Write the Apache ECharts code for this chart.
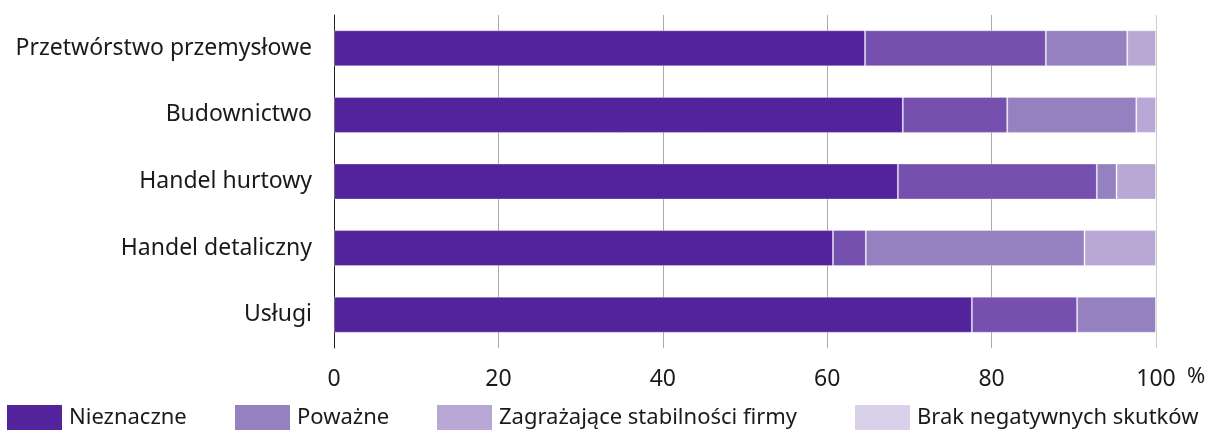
<!DOCTYPE html>
<html>
<head>
<meta charset="utf-8">
<script src="https://cdn.jsdelivr.net/npm/echarts@6/dist/echarts.min.js"></script>
<style>
html,body{margin:0;padding:0;background:#fff;}
#c{width:1206px;height:433px;}
</style>
</head>
<body>
<div id="c"></div>
<script>
const categories = ['Przetwórstwo przemysłowe', 'Budownictwo', 'Handel hurtowy', 'Handel detaliczny', 'Usługi'];
const seriesNames = ['Nieznaczne', 'Poważne', 'Zagrażające stabilności firmy', 'Brak negatywnych skutków'];
const nieznaczne = [64.6, 69.2, 68.6, 60.7, 77.6];
const powazne = [22.0, 12.7, 24.2, 4.0, 12.8];
const zagrazajace = [9.9, 15.7, 2.4, 26.6, 9.6];
const brak = [3.5, 2.4, 4.8, 8.7, 0.0];
const xTicks = [0, 20, 40, 60, 80, 100];

const barColors = ['#52239a', '#7550ae', '#9580c0', '#b9a8d6'];
const legendColors = ['#52239a', '#9580c0', '#b9a8d6', '#d9d0ea'];
const legendLeft = [7, 235, 437, 855];
const FONT = 'Noto Sans';
const values = [nieznaczne, powazne, zagrazajace, brak];

const chart = echarts.init(document.getElementById('c'), null, {renderer: 'canvas'});
chart.setOption({
  animation: false,
  grid: {left: 334, right: 50, top: 15, bottom: 85},
  legend: seriesNames.map((n, i) => ({
    data: [{name: n, itemStyle: {color: legendColors[i], borderWidth: 0}}],
    left: legendLeft[i], top: 405, padding: 0,
    icon: 'rect', itemWidth: 55, itemHeight: 25, itemGap: 10,
    textStyle: {fontFamily: FONT, fontSize: 22, color: '#1a1a1a', padding: [0, 0, 0, 2]},
    selectedMode: false
  })),
  xAxis: {
    type: 'value', min: xTicks[0], max: xTicks[xTicks.length - 1], interval: 20,
    axisLine: {show: false},
    axisTick: {show: false},
    axisLabel: {margin: 20, fontFamily: FONT, fontSize: 23, color: '#1a1a1a'},
    splitLine: {show: true, lineStyle: {color: ['#333', '#aaa', '#aaa', '#aaa', '#aaa', '#ccc'], width: 1}}
  },
  yAxis: {
    type: 'category', data: categories, inverse: true,
    axisLine: {show: true, lineStyle: {color: '#222', width: 1}},
    axisTick: {show: false},
    axisLabel: {margin: 22, fontFamily: FONT, fontSize: 23, color: '#1a1a1a'}
  },
  graphic: [{type: 'text', left: 1187, top: 366, style: {text: '%', fontFamily: FONT, fontSize: 22, fill: '#1a1a1a'}}],
  series: seriesNames.map((n, i) => ({
    name: n, type: 'bar', stack: 'total', data: values[i],
    barWidth: 36,
    itemStyle: {color: barColors[i], borderColor: 'rgba(255,255,255,0.3)', borderWidth: 1}
  }))
});
</script>
</body>
</html>
